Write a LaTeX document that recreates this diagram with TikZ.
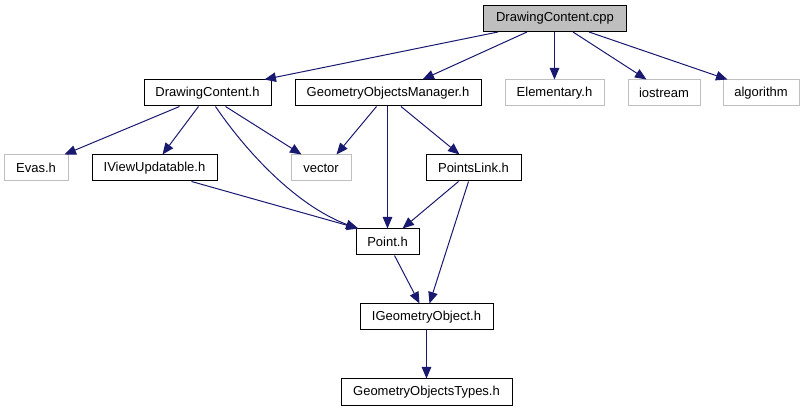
\documentclass[tikz,border=0pt]{standalone}
\usepackage{fontspec}
\setmainfont{Liberation Sans}
\usetikzlibrary{arrows.meta,calc}
\definecolor{edgeblue}{HTML}{191970}
\definecolor{greyline}{HTML}{BFBFBF}
\begin{document}
\begin{tikzpicture}[x=1pt,y=-1pt,
  box/.style={draw=black,line width=1pt,inner sep=0pt,minimum height=26pt,font=\fontsize{13pt}{15pt}\selectfont,anchor=center},
  greybox/.style={box,draw=greyline},
  rootbox/.style={box,fill=greyline},
  edge/.style={draw=edgeblue,line width=1pt,-{Triangle[length=11.5pt,width=9.5pt]}}]
\useasboundingbox (0,0) rectangle (803,411);
\node[rootbox,minimum width=143pt] (cpp) at (555,18.5) {DrawingContent.cpp};
\node[box,minimum width=127pt] (dch) at (207.5,93) {DrawingContent.h};
\node[box,minimum width=186pt] (gom) at (388,93) {GeometryObjectsManager.h};
\node[greybox,minimum width=99pt] (elem) at (554.5,93) {Elementary.h};
\node[greybox,minimum width=72pt] (ios) at (664,93) {iostream};
\node[greybox,minimum width=76pt] (alg) at (761,93) {algorithm};
\node[greybox,minimum width=64pt] (evas) at (36,168) {Evas.h};
\node[box,minimum width=125pt] (ivu) at (154.5,168) {IViewUpdatable.h};
\node[greybox,minimum width=60pt] (vec) at (321,168) {vector};
\node[box,minimum width=95pt] (pl) at (473.5,168) {PointsLink.h};
\node[box,minimum width=63pt] (pt) at (387.5,242) {Point.h};
\node[box,minimum width=133pt] (igo) at (426.5,317) {IGeometryObject.h};
\node[box,minimum width=171pt] (got) at (426.5,392) {GeometryObjectsTypes.h};
% edges from cpp
\draw[edge] ($(cpp.south west)+(15,0)$) -- ($(dch.north east)+(-7,0)$);
\draw[edge] ($(cpp.south west)+(44,0)$) -- ($(gom.north east)+(-59,0)$);
\draw[edge] (cpp.south -| elem.north) -- (elem.north);
\draw[edge] ($(cpp.south)+(18,0)$) -- ($(ios.north west)+(19,0)$);
\draw[edge] ($(cpp.south)+(34,0)$) -- ($(alg.north west)+(5,0)$);
% edges from DrawingContent.h
\draw[edge] ($(dch.south west)+(36,0)$) -- ($(evas.north east)+(-4,0)$);
\draw[edge] ($(dch.south west)+(55,0)$) -- ($(ivu.north west)+(71,0)$);
\draw[edge] ($(dch.south west)+(82,0)$) -- ($(vec.north west)+(11,0)$);
\draw[edge] ($(dch.south west)+(72,0)$) .. controls (245,150) and (295,205) .. ($(pt.north west)+(2,0)$);
% edges from GeometryObjectsManager.h
\draw[edge] ($(gom.south west)+(82,0)$) -- ($(vec.north east)+(-15,0)$);
\draw[edge] (gom.south -| pt.north) -- (pt.north);
\draw[edge] ($(gom.south)+(13,0)$) -- ($(pl.north west)+(34,0)$);
% others
\draw[edge] ($(ivu.south west)+(100,0)$) -- ($(pt.north west)+(3,0)$);
\draw[edge] ($(pl.south west)+(33,0)$) -- ($(pt.north east)+(-17,0)$);
\draw[edge] ($(pl.south west)+(43,0)$) -- ($(igo.north west)+(70,0)$);
\draw[edge] ($(pt.south west)+(39,0)$) -- ($(igo.north west)+(60,0)$);
\draw[edge] (igo.south) -- (got.north);
\end{tikzpicture}
\end{document}
